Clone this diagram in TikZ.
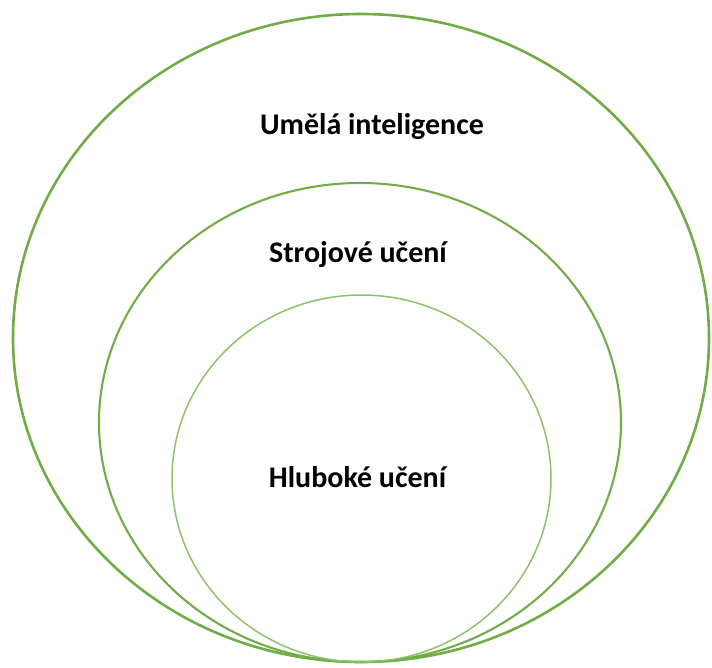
\documentclass[tikz,border=0pt]{standalone}
\usepackage{fontspec}
\setmainfont{Carlito}
\definecolor{ringgreen}{HTML}{70AD47}
\definecolor{ringlight}{HTML}{8CC36A}
\begin{document}
\begin{tikzpicture}[x=1pt,y=-1pt,
  ring/.style={draw=ringgreen},
  lbl/.style={font=\fontsize{30}{36}\selectfont\bfseries, inner sep=0pt, anchor=base}]
\useasboundingbox (0,0) rectangle (712,667);
\draw[ring, line width=2.6pt] (361,338) ellipse [x radius=348, y radius=324];
\draw[ring, line width=2.1pt] (360,422.5) ellipse [x radius=261, y radius=239.5];
\draw[draw=ringlight, line width=1.5pt] (361.5,478.5) ellipse [x radius=189.5, y radius=183.5];
\node[lbl] (ai) at (372,134) {Umělá inteligence};
\node[lbl] (ml) at (358,262) {Strojové učení};
\node[lbl] (dl) at (357.5,487) {Hluboké učení};
\end{tikzpicture}
\end{document}
